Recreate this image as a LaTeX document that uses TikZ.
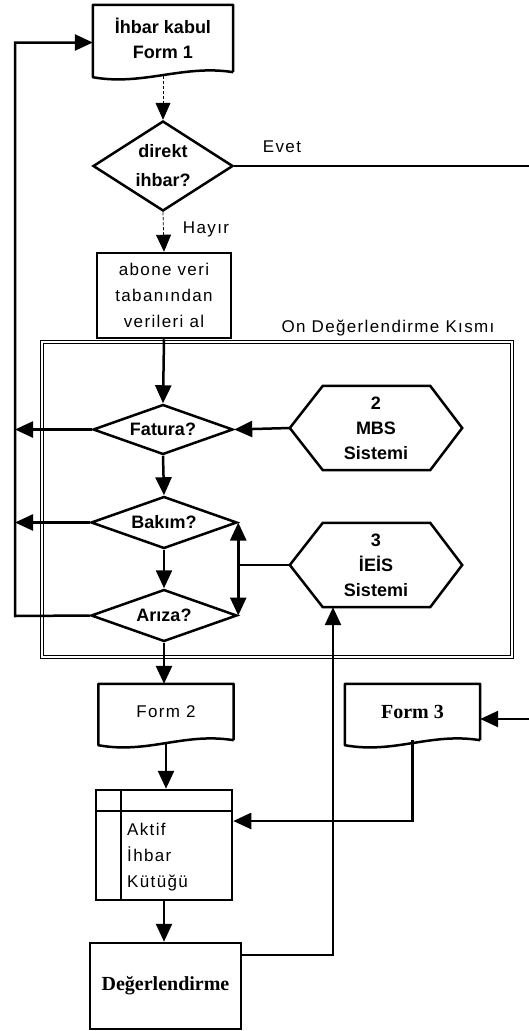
\documentclass[tikz,border=0pt]{standalone}
\usepackage{fontspec}
\setmainfont{Liberation Sans}
\newfontfamily\seriffont{Liberation Serif}
\newfontfamily\aralikli[LetterSpace=8]{Liberation Sans}
\usetikzlibrary{shapes.geometric,arrows.meta}
\newcommand\kalinyazi{\fontsize{18}{25}\selectfont\bfseries}
\newcommand\inceyazi{\aralikli\fontsize{17}{26}\selectfont}
\newcommand\serifyazi{\seriffont\fontsize{20}{24}\selectfont\bfseries}
\tikzset{
  kalin/.style={line width=2.5pt},
  ok/.style={kalin,-{Triangle[length=18pt,width=16pt]}},
  noktali/.style={line width=0.8pt,densely dashed,-{Triangle[length=17pt,width=15pt]}},
  karar/.style={diamond,draw,kalin,inner sep=0pt,align=center,font=\kalinyazi},
  belge/.style={minimum width=135pt,minimum height=56pt,inner sep=0pt,align=center},
  altigen/.style={minimum width=172pt,minimum height=84pt,inner sep=0pt,align=center,font=\kalinyazi},
  kutu/.style={draw,kalin,inner sep=0pt,align=center}
}

\begin{document}
\begin{tikzpicture}[x=1pt,y=-1pt]
  \useasboundingbox (0,0) rectangle (529,1031);
  % Çerçeve
  \node[draw,double,line width=1.2pt,double distance=2.5pt,minimum width=470pt,minimum height=315pt] (cerceve) at (277,499.5) {};
  \node[font=\inceyazi] (cerceveyazi) at (388,328) {On Değerlendirme Kısmı};
  % Belgeler
  \node[belge,minimum width=140pt,minimum height=67pt,font=\kalinyazi] (form1) at (163,38.5) {İhbar kabul\\Form 1};
  \node[belge,font=\inceyazi] (form2) at (166,712) {Form 2};
  \node[belge,font=\serifyazi] (form3) at (412.5,712) {Form 3};
  \foreach \b in {form1,form2,form3}
    \draw[kalin,line join=round] (\b.south east) -- (\b.north east) -- (\b.north west) -- ([yshift=-5pt]\b.south west)
      .. controls ([xshift=50pt,yshift=-14pt]\b.south west) and ([xshift=-50pt,yshift=8pt]\b.south east) .. (\b.south east);
  % Kararlar ve kutular
  \node[karar,minimum width=140pt,minimum height=90pt,aspect=1.556] (direkt) at (163,166) {direkt\\[4pt]ihbar?};
  \node[kutu,minimum width=134pt,minimum height=85pt,font=\inceyazi] (abone) at (164,295.5) {abone veri\\tabanından\\verileri al};
  \node[karar,minimum width=140pt,minimum height=50pt,aspect=2.8] (fatura) at (163,429.5) {Fatura?};
  \node[karar,minimum width=146pt,minimum height=52pt,aspect=2.8] (bakim) at (164,522.5) {Bakım?};
  \node[karar,minimum width=146pt,minimum height=52pt,aspect=2.8] (ariza) at (164,615.5) {Arıza?};
  % Sistemler
  \node[altigen] (mbs) at (376,428) {2\\MBS\\Sistemi};
  \node[altigen] (ieis) at (376,565) {3\\İEİS\\Sistemi};
  \foreach \h in {mbs,ieis}
    \draw[kalin] (\h.west) -- ([xshift=33pt]\h.north west) -- ([xshift=-32pt]\h.north east) -- (\h.east)
      -- ([xshift=-32pt]\h.south east) -- ([xshift=33pt]\h.south west) -- cycle;
  % Kütük
  \node[draw,kalin,minimum width=136pt,minimum height=110pt] (kutuk) at (164,845) {};
  \draw[kalin] ([yshift=-22pt]kutuk.north west) -- ([yshift=-22pt]kutuk.north east);
  \draw[kalin] ([xshift=26pt]kutuk.north west) -- ([xshift=26pt]kutuk.south west);
  \node[anchor=west,align=left,inner sep=0pt,font=\inceyazi] (kutukyazi) at (127,857) {Aktif\\İhbar\\Kütüğü};
  \node[kutu,minimum width=151pt,minimum height=86pt,font=\serifyazi] (deger) at (165.5,986) {Değerlendirme};
  % Bağlantılar
  \coordinate (sol) at (15,616);
  \coordinate (sag) at (529,166);
  \coordinate (sag3) at (529,719);
  \draw[noktali,shorten <=4pt] (form1.south) -- (direkt.north);
  \draw[kalin] (direkt.east) -- (sag);
  \node[font=\inceyazi] (evet) at (282,147) {Evet};
  \draw[noktali] (direkt.south) -- (abone.north);
  \node[font=\inceyazi] (hayir) at (206,229) {Hayır};
  \draw[ok] (abone.south) -- (fatura.north);
  \draw[ok] (mbs.west) -- (fatura.east);
  \draw[ok] (fatura.west) -- (fatura.west -| sol);
  \draw[ok] (fatura.south) -- (bakim.north);
  \draw[ok] (bakim.west) -- (bakim.west -| sol);
  \draw[ok] (bakim.south) -- (ariza.north);
  \draw[ok] (ariza.west) -- (sol) |- ([yshift=-4pt]form1.west);
  \draw[kalin,{Triangle[length=18pt,width=16pt]}-{Triangle[length=18pt,width=16pt]}] (bakim.east) -- (ariza.east);
  \draw[kalin] (ieis.west) -- (ieis.west -| bakim.east);
  \draw[ok] (ariza.south) -- (ariza.south |- form2.north);
  \draw[ok] (sag3) -- (form3.east |- sag3);
  \draw[ok] (form3.south) |- ([yshift=24pt]kutuk.east);
  \draw[ok,shorten <=4pt] (form2.south) -- (form2.south |- kutuk.north);
  \draw[ok] (kutuk.south) -- (kutuk.south |- deger.north);
  \draw[ok] ([yshift=31pt]deger.east) -| ([xshift=-43pt]ieis.south);
\end{tikzpicture}
\end{document}
